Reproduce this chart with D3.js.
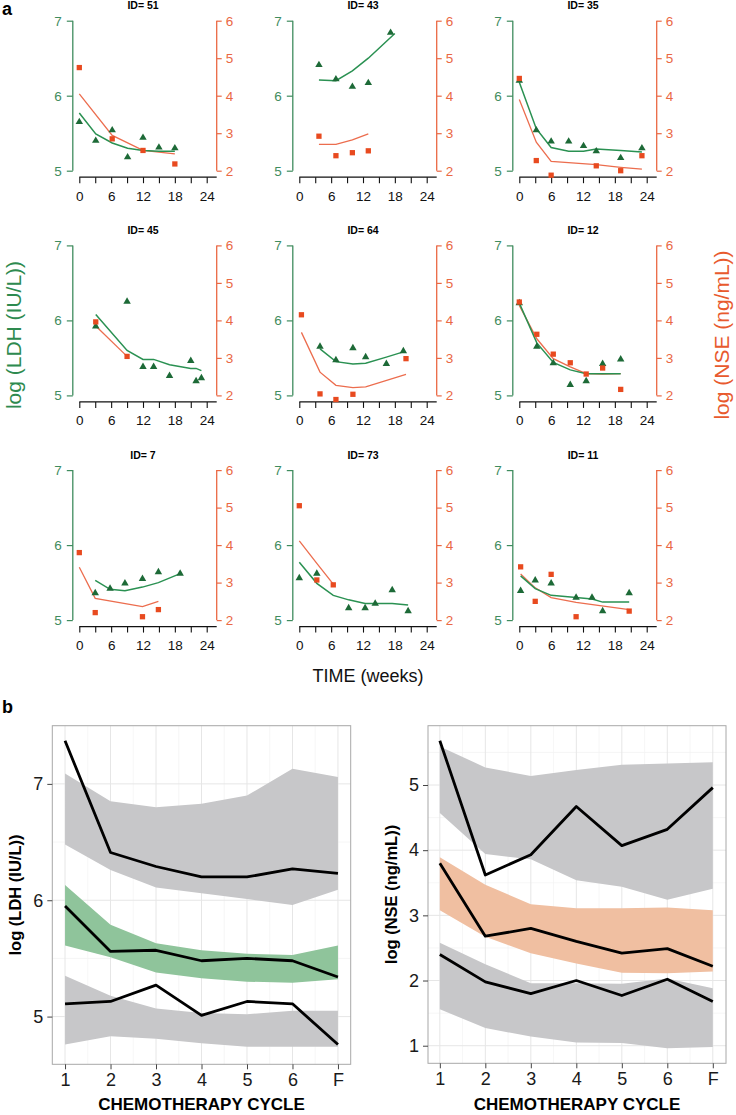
<!DOCTYPE html>
<html><head><meta charset="utf-8">
<script src="https://cdn.jsdelivr.net/npm/d3@7"></script>
<style>body{margin:0;background:#fff}svg{display:block;font-family:"Liberation Sans",Arial,sans-serif}</style>
</head><body><svg id="c" width="736" height="1115"></svg>
<script>
// ---------- Panel a data (order of panels) ----------
const panelIds = [51, 43, 35, 45, 64, 12, 7, 73, 11];
const weekTicks = [0, 3, 6, 9, 12, 15, 18, 21, 24];
const weekLabels = [0, 6, 12, 18, 24];
const ldhTicks = [5, 6, 7];
const nseTicks = [2, 3, 4, 5, 6];
const ldhObs = [
  [[0,5.65],[3.1,5.40],[6.2,5.54],[9.1,5.18],[12,5.44],[15,5.31],[18,5.30]],
  [[3.7,6.41],[6.9,6.22],[10,6.12],[13,6.17],[17.2,6.84]],
  [[0,6.20],[3.2,5.54],[6,5.39],[9.3,5.39],[12.1,5.33],[14.5,5.26],[19.1,5.17],[23.1,5.30]],
  [[3.1,5.92],[9,6.25],[12,5.38],[14,5.38],[17,5.26],[21,5.46],[22,5.19],[23,5.23]],
  [[3.9,5.65],[6.9,5.47],[10.1,5.63],[12.5,5.51],[16.4,5.42],[19.6,5.59]],
  [[0,6.23],[3.3,5.65],[6.4,5.43],[9.6,5.14],[12.6,5.19],[15.7,5.42],[19.1,5.48]],
  [[3,5.36],[5.8,5.42],[8.6,5.49],[11.9,5.55],[14.9,5.64],[19,5.62]],
  [[0,5.56],[3.3,5.62],[9.3,5.16],[12.4,5.16],[14.3,5.22],[17.5,5.40],[20.5,5.12]],
  [[0.25,5.39],[3,5.53],[6,5.49],[10.7,5.30],[13.7,5.30],[15.7,5.12],[20.7,5.36]]
];
const ldhPred = [
  [[0,5.77],[3.1,5.49],[6.2,5.37],[9.1,5.30],[12,5.27],[15,5.26],[18,5.26]],
  [[3.7,6.21],[6.9,6.20],[10,6.33],[13,6.50],[18,6.83]],
  [[0,6.18],[3.2,5.56],[6,5.31],[9.3,5.26],[12.1,5.26],[14.5,5.29],[19.1,5.27],[23.1,5.25]],
  [[3.1,6.08],[9,5.60],[12,5.48],[14,5.48],[17,5.41],[21,5.36],[22,5.36],[23,5.33]],
  [[3.9,5.62],[6.9,5.45],[10.1,5.42],[12.5,5.43],[16.4,5.51],[19.6,5.58]],
  [[0,6.23],[3.3,5.70],[6.4,5.44],[9.6,5.34],[12.6,5.29],[15.7,5.29],[19.1,5.29]],
  [[3,5.53],[5.8,5.41],[8.6,5.39],[11.9,5.44],[14.9,5.50],[19,5.62]],
  [[0,5.77],[3.3,5.49],[6.4,5.33],[9.3,5.27],[12.4,5.22],[14.3,5.22],[17.5,5.22],[20.5,5.20]],
  [[0.25,5.59],[3,5.42],[6,5.33],[10.7,5.30],[13.7,5.28],[15.7,5.24],[20.7,5.24]]
];
const nseObs = [
  [[0,4.75],[6.2,2.85],[12,2.54],[18,2.18]],
  [[3.7,2.92],[6.9,2.40],[10,2.48],[13,2.53]],
  [[0,4.46],[3.2,2.27],[6,1.88],[14.5,2.13],[19.1,2.00],[23.1,2.40]],
  [[3.1,3.96],[9,3.04]],
  [[0.4,4.15],[3.9,2.04],[6.9,1.89],[10.1,2.03],[20.1,2.98]],
  [[0,4.49],[3.3,3.63],[6.4,3.10],[9.6,2.87],[12.6,2.57],[15.7,2.73],[19.1,2.16]],
  [[0,3.80],[3,2.20],[11.9,2.09],[14.9,2.28]],
  [[0,5.05],[3.3,3.07],[6.4,2.94]],
  [[0.25,3.42],[3,2.50],[6,3.22],[10.7,2.09],[20.7,2.24]]
];
const nsePred = [
  [[0,4.05],[6.2,2.94],[12,2.54],[18,2.45]],
  [[3.7,2.70],[6.9,2.70],[10,2.82],[13,2.98]],
  [[0,3.90],[3.2,2.76],[6,2.25],[14.5,2.16],[19.1,2.09],[23.1,2.04]],
  [[3.1,3.85],[9,3.04]],
  [[0.4,3.68],[3.9,2.62],[6.9,2.27],[10.1,2.21],[12.5,2.23],[20.1,2.56]],
  [[0,4.40],[3.3,3.51],[6.4,2.98],[9.6,2.76],[12.6,2.58],[15.7,2.57],[19.1,2.58]],
  [[0,3.41],[3,2.58],[11.9,2.36],[14.9,2.50]],
  [[0,4.11],[3.3,3.51],[6.4,2.96]],
  [[0.25,3.23],[3,2.86],[6,2.60],[10.7,2.47],[20.7,2.28]]
];

// ---------- Panel b data ----------
const cycles = ["1","2","3","4","5","6","F"];
const ldhHiBandTop = [7.09,6.85,6.80,6.83,6.90,7.13,7.06];
const ldhHiBandBot = [6.48,6.26,6.11,6.06,6.01,5.96,6.09];
const ldhHiLine    = [7.37,6.41,6.29,6.20,6.20,6.27,6.23];
const ldhMidBandTop= [6.13,5.79,5.63,5.57,5.54,5.53,5.61];
const ldhMidBandBot= [5.61,5.51,5.38,5.33,5.30,5.29,5.32];
const ldhMidLine   = [5.95,5.56,5.57,5.48,5.50,5.48,5.34];
const ldhLoBandTop = [5.35,5.18,5.07,5.03,5.02,5.05,5.05];
const ldhLoBandBot = [4.76,4.83,4.81,4.77,4.74,4.74,4.74];
const ldhLoLine    = [5.11,5.13,5.27,5.01,5.13,5.11,4.76];
const nseHiBandTop = [5.59,5.27,5.14,5.23,5.31,5.33,5.35];
const nseHiBandBot = [4.57,3.94,3.86,3.54,3.44,3.24,3.41];
const nseHiLine    = [5.68,3.62,3.93,4.67,4.07,4.32,4.96];
const nseMidBandTop= [3.89,3.47,3.17,3.11,3.11,3.12,3.08];
const nseMidBandBot= [3.08,2.67,2.42,2.26,2.12,2.11,2.14];
const nseMidLine   = [3.80,2.68,2.80,2.60,2.42,2.49,2.22];
const nseLoBandTop = [2.58,2.25,1.96,1.96,1.95,2.03,1.88];
const nseLoBandBot = [1.56,1.27,1.14,1.05,1.04,0.96,0.98];
const nseLoLine    = [2.40,1.98,1.80,2.00,1.77,2.02,1.68];
const ldhTicksB = [5, 6, 7];
const nseTicksB = [1, 2, 3, 4, 5];

// ---------- Styles ----------
const GREEN_AX = "#3f8c5e", GREEN_PT = "#1d6a37", GREEN_LN = "#2a9152";
const ORANGE_AX = "#ea6844", ORANGE_PT = "#e84a1f", ORANGE_LN = "#ec6d4e";

const svg = d3.select("#c");

svg.append("text").attr("x", 2).attr("y", 15).attr("font-size", 18).attr("font-weight", "bold").text("a");
svg.append("text").attr("x", 2).attr("y", 713).attr("font-size", 18).attr("font-weight", "bold").text("b");

// ---------- Panel a ----------
panelIds.forEach((id, i) => {
  const c = i % 3, r = Math.floor(i / 3);
  const x0 = 79.3 + 220 * c;
  const y7 = 20.7 + 224.7 * r;
  const y5 = y7 + 150;
  const x = d3.scaleLinear().domain([0, 24]).range([x0, x0 + 127.4]);
  const yL = d3.scaleLinear().domain([5, 7]).range([y5, y7]);
  const yR = d3.scaleLinear().domain([2, 6]).range([y5, y7]);
  const g = svg.append("g");

  g.append("text").attr("x", (x(0) + x(24)) / 2).attr("y", y7 - 11.5)
    .attr("text-anchor", "middle").attr("font-size", 10.5).attr("font-weight", "bold").text("ID= " + id);

  const axL = g.append("g").attr("transform", `translate(${x0 - 6.5},0)`)
    .call(d3.axisLeft(yL).tickValues(ldhTicks).tickSize(6).tickPadding(5).tickFormat(d3.format("d")));
  axL.select(".domain").attr("d", `M0,${y7}V${y5}`).attr("stroke", GREEN_AX).attr("stroke-width", 1.3);
  axL.selectAll("line").attr("stroke", GREEN_AX).attr("stroke-width", 1.2);
  axL.selectAll("text").attr("fill", GREEN_AX).attr("font-size", 13.5).attr("font-family", "Liberation Sans, Arial");

  const axR = g.append("g").attr("transform", `translate(${x(24) + 10},0)`)
    .call(d3.axisRight(yR).tickValues(nseTicks).tickSize(5).tickPadding(4).tickFormat(d3.format("d")));
  axR.select(".domain").attr("d", `M0,${y7}V${y5}`).attr("stroke", ORANGE_AX).attr("stroke-width", 1.3);
  axR.selectAll("line").attr("stroke", ORANGE_AX).attr("stroke-width", 1.2);
  axR.selectAll("text").attr("fill", ORANGE_AX).attr("font-size", 13.5).attr("font-family", "Liberation Sans, Arial");

  const axB = g.append("g").attr("transform", `translate(0,${y5 + 6.5})`)
    .call(d3.axisBottom(x).tickValues(weekTicks).tickSize(6).tickPadding(8)
      .tickFormat(d => weekLabels.includes(d) ? d : ""));
  axB.select(".domain").attr("d", `M${x(0)},0H${x(24) + 10}`).attr("stroke", "#111").attr("stroke-width", 1.2);
  axB.selectAll("line").attr("stroke", "#111").attr("stroke-width", 1.1);
  axB.selectAll("text").attr("fill", "#111").attr("font-size", 13.5).attr("font-family", "Liberation Sans, Arial");

  const lineL = d3.line().x(d => x(d[0])).y(d => yL(d[1]));
  const lineR = d3.line().x(d => x(d[0])).y(d => yR(d[1]));
  g.append("path").attr("d", lineR(nsePred[i])).attr("fill", "none").attr("stroke", ORANGE_LN).attr("stroke-width", 1.3);
  g.append("path").attr("d", lineL(ldhPred[i])).attr("fill", "none").attr("stroke", GREEN_LN).attr("stroke-width", 1.5);

  g.selectAll(".tri").data(ldhObs[i]).enter().append("path")
    .attr("d", d3.symbol().type(d3.symbolTriangle).size(24))
    .attr("transform", d => `translate(${x(d[0])},${yL(d[1])})`).attr("fill", GREEN_PT);
  g.selectAll(".sq").data(nseObs[i]).enter().append("path")
    .attr("d", d3.symbol().type(d3.symbolSquare).size(28))
    .attr("transform", d => `translate(${x(d[0])},${yR(d[1])})`).attr("fill", ORANGE_PT);
});

svg.append("text").attr("transform", "translate(21,335) rotate(-90)").attr("text-anchor", "middle")
  .attr("font-size", 21).attr("fill", "#2e8a4f").text("log (LDH (IU/L))");
svg.append("text").attr("transform", "translate(729,335) rotate(-90)").attr("text-anchor", "middle")
  .attr("font-size", 21).attr("fill", "#e85a2e").text("log (NSE (ng/mL))");
svg.append("text").attr("x", 368).attr("y", 682).attr("text-anchor", "middle")
  .attr("font-size", 18).attr("fill", "#111").text("TIME (weeks)");

// ---------- Panel b ----------
function drawB(opts) {
  const { x, y, ticks, minor, bands, lines, midColor, title, titleX } = opts;
  const g = svg.append("g");
  const [xl, xr] = x.range(), [yb, yt] = y.range();
  const xMinor = d3.range(1.5, 7, 1);
  g.selectAll(".gmy").data(minor).enter().append("line")
    .attr("x1", xl).attr("x2", xr).attr("y1", d => y(d)).attr("y2", d => y(d)).attr("stroke", "#f2f2f2").attr("stroke-width", 0.7);
  g.selectAll(".gmx").data(xMinor).enter().append("line")
    .attr("y1", yt).attr("y2", yb).attr("x1", d => x(d)).attr("x2", d => x(d)).attr("stroke", "#f2f2f2").attr("stroke-width", 0.7);
  g.selectAll(".gy").data(ticks).enter().append("line")
    .attr("x1", xl).attr("x2", xr).attr("y1", d => y(d)).attr("y2", d => y(d)).attr("stroke", "#e6e6e6").attr("stroke-width", 1);
  g.selectAll(".gx").data(d3.range(1, 8)).enter().append("line")
    .attr("y1", yt).attr("y2", yb).attr("x1", d => x(d)).attr("x2", d => x(d)).attr("stroke", "#e6e6e6").attr("stroke-width", 1);

  const area = d3.area().x((d, i) => x(i + 1)).y0(d => y(d[0])).y1(d => y(d[1]));
  bands.forEach((b, k) => {
    const data = b[0].map((v, i) => [b[1][i], v]);
    g.append("path").attr("d", area(data)).attr("fill", k === 1 ? midColor : "#c7c7c9");
  });
  const line = d3.line().x((d, i) => x(i + 1)).y(d => y(d));
  lines.forEach(l => g.append("path").attr("d", line(l)).attr("fill", "none").attr("stroke", "#000")
    .attr("stroke-width", 2.8).attr("stroke-linejoin", "round"));

  g.append("rect").attr("x", xl).attr("y", yt).attr("width", xr - xl).attr("height", yb - yt)
    .attr("fill", "none").attr("stroke", "#a8a8a8").attr("stroke-width", 1);

  const axX = g.append("g").attr("transform", `translate(0,${yb})`)
    .call(d3.axisBottom(x).tickValues(d3.range(1, 8)).tickSize(5).tickPadding(4).tickFormat(d => cycles[d - 1]));
  axX.select(".domain").remove();
  axX.selectAll("line").attr("stroke", "#444");
  axX.selectAll("text").attr("fill", "#1a1a1a").attr("font-size", 18).attr("font-family", "Liberation Sans, Arial");
  const axY = g.append("g").attr("transform", `translate(${xl},0)`)
    .call(d3.axisLeft(y).tickValues(ticks).tickSize(5).tickPadding(4).tickFormat(d3.format("d")));
  axY.select(".domain").remove();
  axY.selectAll("line").attr("stroke", "#444");
  axY.selectAll("text").attr("fill", "#1a1a1a").attr("font-size", 18).attr("font-family", "Liberation Sans, Arial");

  g.append("text").attr("x", (xl + xr) / 2).attr("y", 1110).attr("text-anchor", "middle")
    .attr("font-size", 17).attr("font-weight", "bold").text("CHEMOTHERAPY CYCLE");
  g.append("text").attr("transform", `translate(${titleX},${(yt + yb) / 2}) rotate(-90)`).attr("text-anchor", "middle")
    .attr("font-size", 16.5).attr("font-weight", "bold").text(title);
}

drawB({
  x: d3.scaleLinear().domain([0.72, 7.28]).range([52.3, 350.7]),
  y: d3.scaleLinear().domain([4.59, 7.50]).range([1064.3, 725.7]),
  ticks: ldhTicksB, minor: [5.5, 6.5, 7.5],
  bands: [[ldhHiBandTop, ldhHiBandBot], [ldhMidBandTop, ldhMidBandBot], [ldhLoBandTop, ldhLoBandBot]],
  lines: [ldhHiLine, ldhMidLine, ldhLoLine],
  midColor: "#8fc49b", title: "log (LDH (IU/L))", titleX: 21
});
drawB({
  x: d3.scaleLinear().domain([0.74, 7.29]).range([428, 726]),
  y: d3.scaleLinear().domain([0.73, 5.91]).range([1063.3, 725.7]),
  ticks: nseTicksB, minor: [1.5, 2.5, 3.5, 4.5, 5.5],
  bands: [[nseHiBandTop, nseHiBandBot], [nseMidBandTop, nseMidBandBot], [nseLoBandTop, nseLoBandBot]],
  lines: [nseHiLine, nseMidLine, nseLoLine],
  midColor: "#f0bfa1", title: "log (NSE (ng/mL))", titleX: 397
});
</script></body></html>
